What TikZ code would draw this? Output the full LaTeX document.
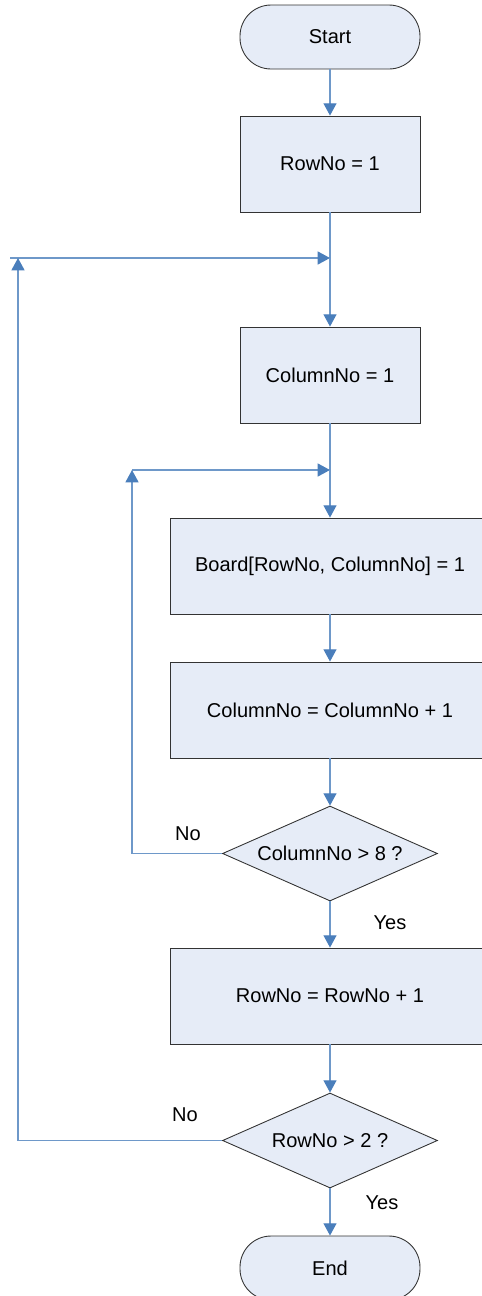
\documentclass[tikz,border=0pt]{standalone}
\usepackage{fontspec}
\setmainfont{Liberation Sans}
\usetikzlibrary{shapes.geometric,arrows.meta}
\definecolor{flowfill}{RGB}{230,236,247}
\definecolor{flowline}{RGB}{74,126,187}
\begin{document}
\begin{tikzpicture}[x=0.02cm,y=-0.02cm,font=\fontsize{11.4}{13}\selectfont,
  term/.style={draw=black!80,line width=0.5pt,fill=flowfill,rounded corners=0.62cm,minimum width=3.6cm,minimum height=1.28cm,inner sep=0pt},
  proc/.style={draw=black!80,line width=0.5pt,fill=flowfill,minimum width=3.6cm,minimum height=1.92cm,inner sep=0pt},
  wideproc/.style={proc,minimum width=6.4cm},
  decide/.style={diamond,aspect=2.26,draw=black!80,line width=0.5pt,fill=flowfill,minimum width=4.3cm,minimum height=1.9cm,inner sep=0pt},
  link/.style={draw=flowline!80,line width=0.7pt},
  flow/.style={link,-{Triangle[width=7.4pt,length=7pt,color=flowline]}}]
\useasboundingbox (0,0) rectangle (481,1296);
% boxes
\node[term]     (start)   at (330,37)     {Start};
\node[proc]     (row1)    at (330,164)    {RowNo = 1};
\node[proc]     (col1)    at (330,375)    {ColumnNo = 1};
\node[wideproc] (board)   at (330,566)    {Board[RowNo, ColumnNo] = 1};
\node[wideproc] (colinc)  at (330,710)    {ColumnNo = ColumnNo + 1};
\node[decide]   (coltest) at (330,853.5)  {ColumnNo > 8 ?};
\node[wideproc] (rowinc)  at (330,996)    {RowNo = RowNo + 1};
\node[decide]   (rowtest) at (330,1140.5) {RowNo > 2 ?};
\node[term]     (end)     at (330,1268)   {End};
% labels
\node (no1)  at (188,834)  {No};
\node (yes1) at (390,923)  {Yes};
\node (no2)  at (185,1115) {No};
\node (yes2) at (382,1203) {Yes};
% junctions
\coordinate (j1)  at (330,258);
\coordinate (in1) at (10,258);
\coordinate (up1) at (18,258);
\coordinate (j2)  at (330,470);
\coordinate (in2) at (132,470);
% arrows
\draw[flow] (start) -- (row1);
\draw[link] (row1) -- (j1);
\draw[flow] (in1) -- (j1);
\draw[flow] (j1) -- (col1);
\draw[link] (col1) -- (j2);
\draw[flow] (in2) -- (j2);
\draw[flow] (j2) -- (board);
\draw[flow] (board) -- (colinc);
\draw[flow] (colinc) -- (coltest);
\draw[flow] (coltest) -- (rowinc);
\draw[flow] (rowinc) -- (rowtest);
\draw[flow] (rowtest) -- (end);
\draw[flow] (coltest.west) -| (in2);
\draw[flow] (rowtest.west) -| (up1);
\end{tikzpicture}
\end{document}
